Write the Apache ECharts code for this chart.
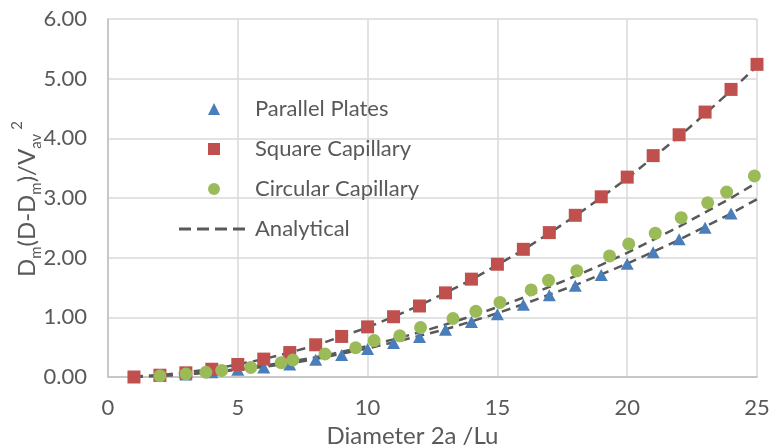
<!DOCTYPE html>
<html>
<head>
<meta charset="utf-8">
<script src="https://cdn.jsdelivr.net/npm/echarts@6/dist/echarts.min.js"></script>
<style>
  html, body { margin: 0; padding: 0; background: #ffffff; }
  #chart { width: 771px; height: 445px; }
</style>
</head>
<body>
<div id="chart"></div>
<script>
// Diameters (lattice units)
const parallelX = [2, 3, 4, 5, 6, 7, 8, 9, 10, 11, 12, 13, 14, 15, 16, 17, 18, 19, 20, 21, 22, 23, 24];
const parallelY = [0.02, 0.04, 0.08, 0.12, 0.16, 0.21, 0.29, 0.37, 0.47, 0.57, 0.67, 0.79, 0.92, 1.05, 1.21, 1.37, 1.53, 1.71, 1.90, 2.09, 2.31, 2.50, 2.74];

const squareX = [1, 2, 3, 4, 5, 6, 7, 8, 9, 10, 11, 12, 13, 14, 15, 16, 17, 18, 19, 20, 21, 22, 23, 24, 25];
const squareY = [0.00, 0.03, 0.07, 0.13, 0.21, 0.30, 0.41, 0.54, 0.68, 0.84, 1.01, 1.19, 1.41, 1.64, 1.89, 2.14, 2.42, 2.71, 3.02, 3.35, 3.71, 4.06, 4.44, 4.82, 5.24];

const circularX = [2.0, 3.0, 3.77, 4.38, 5.5, 6.67, 7.12, 8.36, 9.54, 10.25, 11.24, 12.04, 13.29, 14.17, 15.1, 16.3, 16.97, 18.06, 19.32, 20.06, 21.08, 22.08, 23.1, 23.83, 24.9];
const circularY = [0.02, 0.05, 0.08, 0.11, 0.16, 0.24, 0.285, 0.385, 0.49, 0.61, 0.69, 0.83, 0.98, 1.10, 1.25, 1.46, 1.62, 1.78, 2.03, 2.23, 2.41, 2.67, 2.92, 3.10, 3.37];

// Analytical curves, sampled at integer diameters 1..25
const analyticX = [1, 2, 3, 4, 5, 6, 7, 8, 9, 10, 11, 12, 13, 14, 15, 16, 17, 18, 19, 20, 21, 22, 23, 24, 25];
const analyticParallel = [0.00, 0.02, 0.04, 0.08, 0.12, 0.17, 0.23, 0.30, 0.39, 0.48, 0.58, 0.69, 0.80, 0.93, 1.07, 1.22, 1.38, 1.54, 1.72, 1.90, 2.10, 2.30, 2.52, 2.74, 2.98];
const analyticCircular = [0.01, 0.02, 0.05, 0.08, 0.13, 0.19, 0.26, 0.33, 0.42, 0.52, 0.63, 0.75, 0.88, 1.02, 1.17, 1.33, 1.51, 1.69, 1.88, 2.08, 2.30, 2.52, 2.76, 3.00, 3.26];
const analyticSquare = [0.01, 0.03, 0.08, 0.13, 0.21, 0.30, 0.41, 0.53, 0.68, 0.83, 1.01, 1.20, 1.41, 1.63, 1.88, 2.13, 2.41, 2.70, 3.01, 3.33, 3.68, 4.03, 4.41, 4.80, 5.21];

const pairs = (xs, ys) => xs.map((x, i) => [x, ys[i]]);

const FONT = 'Lato, "Open Sans", sans-serif';
const TEXT = '#595959';
const dashStyle = { color: '#595959', width: 2.5, type: [9, 6] };
// four short dashes for the legend key of the analytical curves
const DASH_ICON = 'path://M0,0h12v3h-12z M18,0h12v3h-12z M36,0h12v3h-12z M54,0h12v3h-12z';

const chart = echarts.init(document.getElementById('chart'), null, { renderer: 'canvas' });

const analyticSeries = (ys) => ({
  name: 'Analytical',
  type: 'line',
  data: pairs(analyticX, ys),
  showSymbol: false,
  symbol: 'none',
  lineStyle: dashStyle,
  itemStyle: { color: '#595959' },
  z: 1,
  silent: true
});

const legendText = { fontFamily: FONT, fontSize: 22, lineHeight: 22, color: TEXT };

chart.setOption({
  animation: false,
  grid: { left: 108, right: 14, top: 19, bottom: 68, containLabel: false, outerBoundsMode: 'none' },
  legend: [
    {
      orient: 'vertical',
      left: 203,
      top: 93,
      itemWidth: 12,
      itemHeight: 12,
      itemGap: 18,
      data: [
        { name: 'Parallel Plates', icon: 'triangle' },
        { name: 'Square Capillary', icon: 'rect' },
        { name: 'Circular Capillary', icon: 'circle' }
      ],
      textStyle: Object.assign({ padding: [0, 0, 0, 30] }, legendText)
    },
    {
      orient: 'vertical',
      left: 174,
      top: 213,
      itemWidth: 66,
      itemHeight: 3,
      data: [{ name: 'Analytical', icon: DASH_ICON }],
      textStyle: Object.assign({ padding: [0, 0, 0, 5] }, legendText)
    }
  ],
  xAxis: {
    type: 'value',
    min: 0, max: 25, interval: 5,
    name: 'Diameter 2a /Lu',
    nameLocation: 'middle',
    nameGap: 38,
    nameTextStyle: { fontFamily: FONT, fontSize: 24, color: TEXT, padding: [0, 40, 0, 0] },
    axisLine: { show: true, lineStyle: { color: '#bfbfbf', width: 1.5 } },
    axisTick: { show: false },
    axisLabel: { fontFamily: FONT, fontSize: 22, color: TEXT, margin: 20 },
    splitLine: { show: true, lineStyle: { color: '#d9d9d9', width: 1.5 } }
  },
  yAxis: {
    type: 'value',
    min: 0, max: 6, interval: 1,
    axisLine: { show: true, lineStyle: { color: '#bfbfbf', width: 1.5 } },
    axisTick: { show: false },
    axisLabel: {
      fontFamily: FONT, fontSize: 22, color: TEXT, margin: 21,
      formatter: v => v.toFixed(2)
    },
    splitLine: { show: true, lineStyle: { color: '#d9d9d9', width: 1.5 } }
  },
  graphic: [{
    type: 'text',
    left: 10,
    top: 121,
    rotation: Math.PI / 2,
    style: {
      text: 'D{sub|m}(D-D{sub|m})/V{sub|av}{sup|2}',
      fontFamily: FONT,
      fontSize: 24,
      fill: TEXT,
      lineHeight: 34,
      rich: {
        sub: { fontFamily: FONT, fontSize: 15, fill: TEXT, verticalAlign: 'bottom', lineHeight: 34 },
        sup: { fontFamily: FONT, fontSize: 15, fill: TEXT, verticalAlign: 'top', lineHeight: 34, padding: [0, 0, 0, 4] }
      }
    }
  }],
  series: [
    analyticSeries(analyticParallel),
    analyticSeries(analyticSquare),
    analyticSeries(analyticCircular),
    {
      name: 'Parallel Plates',
      type: 'scatter',
      symbol: 'triangle',
      symbolSize: [13, 12],
      itemStyle: { color: '#4a7ebb', opacity: 1 },
      data: pairs(parallelX, parallelY),
      z: 2
    },
    {
      name: 'Square Capillary',
      type: 'scatter',
      symbol: 'rect',
      symbolSize: 13,
      itemStyle: { color: '#c0504d', opacity: 1 },
      data: pairs(squareX, squareY),
      z: 2
    },
    {
      name: 'Circular Capillary',
      type: 'scatter',
      symbol: 'circle',
      symbolSize: 13,
      itemStyle: { color: '#9bbb59', opacity: 1 },
      data: pairs(circularX, circularY),
      z: 2
    }
  ]
});
</script>
</body>
</html>
